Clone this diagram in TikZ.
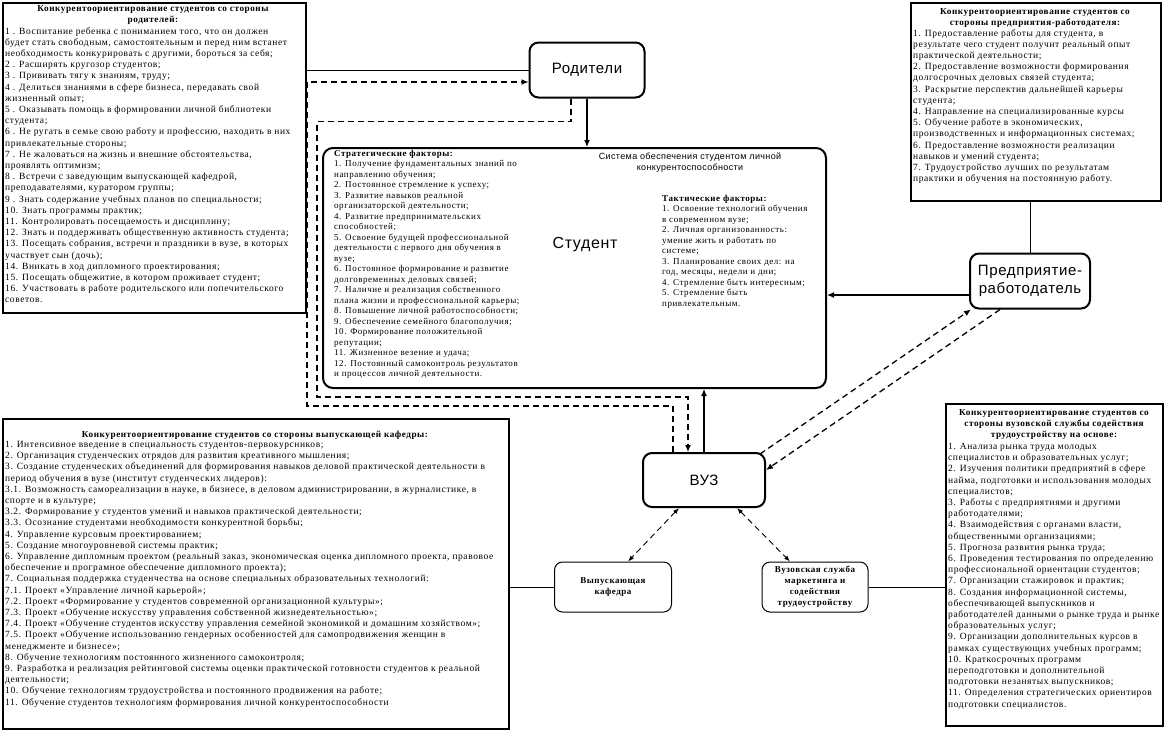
\documentclass[tikz,border=0pt]{standalone}
\usepackage{fontspec}
\setmainfont{Liberation Serif}[LetterSpace=6]
\newfontfamily\sansf{Liberation Sans}[LetterSpace=4]
\usetikzlibrary{positioning,arrows.meta}
\tikzset{
  frame/.style={draw, line width=1.8pt, anchor=north west, inner sep=0},
  txt/.style={font=\fontsize{9.5}{11.2}\selectfont, align=left, anchor=north west, inner sep=0},
  ttl/.style={font=\bfseries\fontsize{9.2}{11}\selectfont, align=center, anchor=north, inner sep=0},
  big/.style={draw, rounded corners=9pt, line width=2pt, align=center, font=\sansf\fontsize{15}{18}\selectfont},
  small/.style={draw, rounded corners=8pt, line width=1pt, align=center, font=\bfseries\fontsize{9}{11}\selectfont},
  dashline/.style={line width=1.3pt, dash pattern=on 6pt off 4pt},
  tip/.style={-{Latex[length=7pt,width=6pt]}}
}
\begin{document}
\begin{tikzpicture}[x=1pt,y=-1pt]
\useasboundingbox (0,0) rectangle (1164,732);
% text boxes
\node [frame, minimum width=303, minimum height=310] (parbox) at (2,2) {};
\node [ttl] (partitle) at (153,5) {Конкурентоориентирование студентов со стороны\\родителей:};
\node [txt] (partext) at (5,27) {1 . Воспитание ребенка с пониманием того, что он должен\\
будет стать свободным, самостоятельным и перед ним встанет\\
необходимость конкурировать с другими, бороться за себя;\\
2 . Расширять кругозор студентов;\\
3 . Прививать тягу к знаниям, труду;\\
4 . Делиться знаниями в сфере бизнеса, передавать свой\\
жизненный опыт;\\
5 . Оказывать помощь в формировании личной библиотеки\\
студента;\\
6 . Не ругать в семье свою работу и профессию, находить в них\\
привлекательные стороны;\\
7 . Не жаловаться на жизнь и внешние обстоятельства,\\
проявлять оптимизм;\\
8 . Встречи с заведующим выпускающей кафедрой,\\
преподавателями, куратором группы;\\
9 . Знать содержание учебных планов по специальности;\\
10. Знать программы практик;\\
11. Контролировать посещаемость и дисциплину;\\
12. Знать и поддерживать общественную активность студента;\\
13. Посещать собрания, встречи и праздники в вузе, в которых\\
участвует сын (дочь);\\
14. Вникать в ход дипломного проектирования;\\
15. Посещать общежитие, в котором проживает студент;\\
16. Участвовать в работе родительского или попечительского\\
советов.};
\node [frame, minimum width=250, minimum height=198] (empbox) at (910,2) {};
\node [ttl] (emptitle) at (1035,8) {Конкурентоориентирование студентов со\\стороны предприятия-работодателя:};
\node [txt] (emptext) at (913,29) {1. Предоставление работы для студента, в\\
результате чего студент получит реальный опыт\\
практической деятельности;\\
2. Предоставление возможности формирования\\
долгосрочных деловых связей студента;\\
3. Раскрытие перспектив дальнейшей карьеры\\
студента;\\
4. Направление на специализированные курсы\\
5. Обучение работе в экономических,\\
производственных и информационных системах;\\
6. Предоставление возможности реализации\\
навыков и умений студента;\\
7. Трудоустройство лучших по результатам\\
практики и обучения на постоянную работу.};
\node [frame, minimum width=506, minimum height=310] (kafbox) at (2,418) {};
\node [ttl] (kaftitle) at (255,431) {Конкурентоориентирование студентов со стороны выпускающей кафедры:};
\node [txt] (kaftext) at (5,441) {1. Интенсивное введение в специальность студентов-первокурсников;\\
2. Организация студенческих отрядов для развития креативного мышления;\\
3. Создание студенческих объединений для формирования навыков деловой практической деятельности в\\
период обучения в вузе (институт студенческих лидеров):\\
3.1. Возможность самореализации в науке, в бизнесе, в деловом администрировании, в журналистике, в\\
спорте и в культуре;\\
3.2. Формирование у студентов умений и навыков практической деятельности;\\
3.3. Осознание студентами необходимости конкурентной борьбы;\\
4. Управление курсовым проектированием;\\
5. Создание многоуровневой системы практик;\\
6. Управление дипломным проектом (реальный заказ, экономическая оценка дипломного проекта, правовое\\
обеспечение и програмное обеспечение дипломного проекта);\\
7. Социальная поддержка студенчества на основе специальных образовательных технологий:\\
7.1. Проект «Управление личной карьерой»;\\
7.2. Проект «Формирование у студентов современной организационной культуры»;\\
7.3. Проект «Обучение искусству управления собственной жизнедеятельностью»;\\
7.4. Проект «Обучение студентов искусству управления семейной экономикой и домашним хозяйством»;\\
7.5. Проект «Обучение использованию гендерных особенностей для самопродвижения женщин в\\
менеджменте и бизнесе»;\\
8. Обучение технологиям постоянного жизненного самоконтроля;\\
9. Разработка и реализация рейтинговой системы оценки практической готовности студентов к реальной\\
деятельности;\\
10. Обучение технологиям трудоустройства и постоянного продвижения на работе;\\
11. Обучение студентов технологиям формирования личной конкурентоспособности};
\node [frame, minimum width=217, minimum height=322] (serbox) at (945,403) {};
\node [ttl] (sertitle) at (1054,409) {Конкурентоориентирование студентов со\\стороны вузовской службы содействия\\трудоустройству на основе:};
\node [txt] (sertext) at (948,443) {1. Анализа рынка труда молодых\\
специалистов и образовательных услуг;\\
2. Изучения политики предприятий в сфере\\
найма, подготовки и использования молодых\\
специалистов;\\
3. Работы с предприятиями и другими\\
работодателями;\\
4. Взаимодействия с органами власти,\\
общественными организациями;\\
5. Прогноза развития рынка труда;\\
6. Проведения тестирования по определению\\
профессиональной ориентации студентов;\\
7. Организации стажировок и практик;\\
8. Создания информационной системы,\\
обеспечивающей выпускников и\\
работодателей данными о рынке труда и рынке\\
образовательных услуг;\\
9. Организации дополнительных курсов в\\
рамках существующих учебных программ;\\
10. Краткосрочных программ\\
переподготовки и дополнительной\\
подготовки незанятых выпускников;\\
11. Определения стратегических ориентиров\\
подготовки специалистов.};
% student
\node [draw, rounded corners=10pt, line width=2pt, minimum width=503, minimum height=240, anchor=north west, inner sep=0] (stud) at (322,147) {};
\node [font=\sansf\fontsize{16}{18}\selectfont] (studname) at (585,245) {Студент};
\node [font=\sansf\fontsize{9}{11}\selectfont, align=center] (studsys) at (690,163) {Система обеспечения студентом личной\\конкурентоспособности};
\node [txt, font=\fontsize{9}{10.5}\selectfont] (strat) at (334,150) {\textbf{Стратегические факторы:}\\
1. Получение фундаментальных знаний по\\
направлению обучения;\\
2. Постоянное стремление к успеху;\\
3. Развитие навыков реальной\\
организаторской деятельности;\\
4. Развитие предпринимательских\\
способностей;\\
5. Освоение будущей профессиональной\\
деятельности с первого дня обучения в\\
вузе;\\
6. Постоянное формирование и развитие\\
долговременных деловых связей;\\
7. Наличие и реализация собственного\\
плана жизни и профессиональной карьеры;\\
8. Повышение личной работоспособности;\\
9. Обеспечение семейного благополучия;\\
10. Формирование положительной\\
репутации;\\
11. Жизненное везение и удача;\\
12. Постоянный самоконтроль результатов\\
и процессов личной деятельности.};
\node [txt, font=\fontsize{9}{10.5}\selectfont] (tact) at (662,195) {\textbf{Тактические факторы:}\\
1. Освоение технологий обучения\\
в современном вузе;\\
2. Личная организованность:\\
умение жить и работать по\\
системе;\\
3. Планирование своих дел: на\\
год, месяцы, недели и дни;\\
4. Стремление быть интересным;\\
5. Стремление быть\\
привлекательным.};
% actors
\node [big, minimum width=115, minimum height=55] (rod) at (587,70) {Родители};
\node [big, minimum width=120, minimum height=55] (emp) at (1030,281) {Предприятие-\\работодатель};
\node [big, minimum width=122, minimum height=54] (vuz) at (704,480) {ВУЗ};
\node [small, minimum width=117, minimum height=50] (kaf) at (613,587) {Выпускающая\\кафедра};
\node [small, minimum width=106, minimum height=50] (serv) at (815,587) {Вузовская служба\\маркетинга и\\содействия\\трудоустройству};
% connectors
\draw [line width=0.8pt] (rod.west) -- (rod.west -| parbox.east);
\draw [line width=0.8pt] (emp.north) -- (emp.north |- empbox.south);
\draw [line width=0.8pt] (kaf.west) -- (kaf.west -| kafbox.east);
\draw [line width=0.8pt] (serv.east) -- (serv.east -| serbox.west);
\draw [tip, line width=1.2pt] (rod.south) -- (rod.south |- stud.north);
\draw [tip, line width=1.2pt] ([yshift=-14pt]emp.west) -- ([yshift=-14pt]emp.west -| stud.east);
\draw [tip, line width=1.2pt] (vuz.north) -- (vuz.north |- stud.south);
\draw [tip, dashline] ([xshift=-16pt]rod.south) |- ++(0,23) -| ([xshift=-5pt,yshift=-8pt]stud.south west) -| ([xshift=-16pt]vuz.north);
\draw [tip, dashline] ([xshift=-31pt]vuz.north) |- ++(0,-46) -| ([xshift=-15pt,yshift=-12pt]stud.west |- rod.west) |- ([yshift=-12pt]rod.west);
\draw [tip, dashline] ([xshift=-6pt,yshift=-2pt]vuz.north east) -- ([xshift=2pt]emp.south west);
\draw [tip, dashline] ([xshift=-30pt]emp.south) -- ([yshift=10pt]vuz.east);
\draw [{Latex[length=6pt]}-{Latex[length=6pt]}, dashline, line width=0.9pt] ([xshift=-25pt]vuz.south) -- ([xshift=15pt]kaf.north);
\draw [{Latex[length=6pt]}-{Latex[length=6pt]}, dashline, line width=0.9pt] ([xshift=33pt]vuz.south) -- ([xshift=-25pt]serv.north);
\end{tikzpicture}
\end{document}
